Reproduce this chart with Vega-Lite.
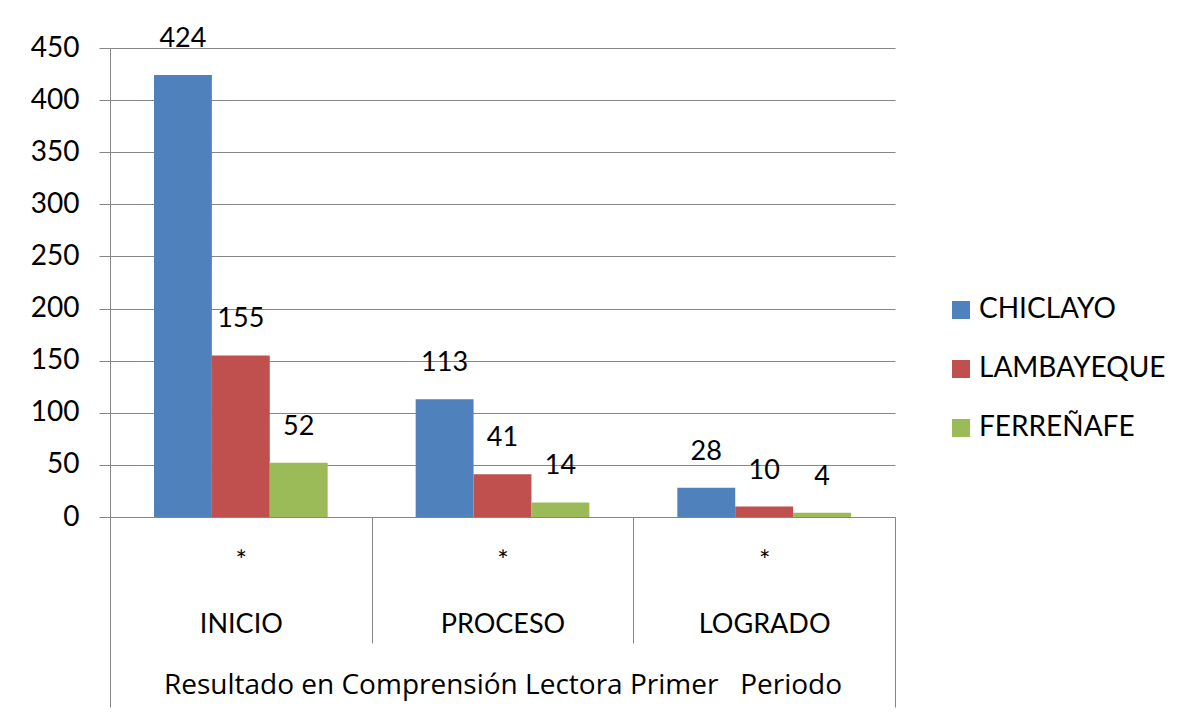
{
  "$schema": "https://vega.github.io/schema/vega-lite/v6.json",
  "width": 785,
  "height": 469,
  "autosize": {"type": "none"},
  "padding": {"left": 110, "top": 48, "right": 297, "bottom": 200},
  "background": "white",
  "config": {
    "view": {"stroke": null},
    "font": "Lato",
    "text": {"font": "Lato"}
  },
  "data": {
    "values": [
      {"nivel": "INICIO", "provincia": "CHICLAYO", "valor": 424},
      {"nivel": "INICIO", "provincia": "LAMBAYEQUE", "valor": 155},
      {"nivel": "INICIO", "provincia": "FERREÑAFE", "valor": 52},
      {"nivel": "PROCESO", "provincia": "CHICLAYO", "valor": 113},
      {"nivel": "PROCESO", "provincia": "LAMBAYEQUE", "valor": 41},
      {"nivel": "PROCESO", "provincia": "FERREÑAFE", "valor": 14},
      {"nivel": "LOGRADO", "provincia": "CHICLAYO", "valor": 28},
      {"nivel": "LOGRADO", "provincia": "LAMBAYEQUE", "valor": 10},
      {"nivel": "LOGRADO", "provincia": "FERREÑAFE", "valor": 4}
    ]
  },
  "encoding": {
    "x": {
      "field": "nivel",
      "type": "nominal",
      "sort": ["INICIO", "PROCESO", "LOGRADO"],
      "scale": {"paddingInner": 0, "paddingOuter": 0},
      "axis": {
        "title": "Resultado en Comprensión Lectora Primer\u00a0\u00a0\u00a0Periodo",
        "titleFont": "Open Sans",
        "titleFontSize": 28,
        "titleFontWeight": "normal",
        "titleColor": "black",
        "titlePadding": -36,
        "labelExpr": "datum.value ? ['*', datum.value] : ''",
        "labelAngle": 0,
        "labelFont": "Lato",
        "labelFontSize": 27,
        "labelColor": "black",
        "labelLineHeight": 63,
        "labelBaseline": "top",
        "labelPadding": {"condition": {"test": "datum.value === 'INICIO' || datum.value === 'PROCESO'", "value": -95}, "value": -159},
        "tickBand": "extent",
        "tickColor": "#868686",
        "tickSize": {"condition": {"test": "datum.value === 'INICIO' || datum.value === 'PROCESO'", "value": 126}, "value": 190},
        "domainColor": "#868686",
        "grid": false
      }
    },
    "xOffset": {
      "field": "provincia",
      "sort": ["CHICLAYO", "LAMBAYEQUE", "FERREÑAFE"],
      "scale": {"paddingInner": 0, "paddingOuter": 0.76}
    },
    "y": {
      "field": "valor",
      "type": "quantitative",
      "scale": {"domain": [0, 450], "nice": false},
      "axis": {
        "title": null,
        "values": [0, 50, 100, 150, 200, 250, 300, 350, 400, 450],
        "labelFont": "Lato",
        "labelFontSize": 28,
        "labelColor": "black",
        "labelPadding": 20,
        "tickSize": 11,
        "tickColor": "#868686",
        "domainColor": "#868686",
        "gridColor": "#868686",
        "gridOpacity": 1,
        "grid": true
      }
    }
  },
  "layer": [
    {
      "mark": {"type": "bar"},
      "encoding": {
        "color": {
          "field": "provincia",
          "type": "nominal",
          "sort": ["CHICLAYO", "LAMBAYEQUE", "FERREÑAFE"],
          "scale": {"domain": ["CHICLAYO", "LAMBAYEQUE", "FERREÑAFE"], "range": ["#4F81BD", "#C0504D", "#9BBB59"]},
          "legend": {
            "title": null,
            "orient": "none",
            "legendX": 837,
            "legendY": 248,
            "symbolType": "square",
            "symbolSize": 324,
            "symbolStrokeWidth": 0,
            "symbolOpacity": 1,
            "labelFont": "Lato",
            "labelFontSize": 28,
            "labelColor": "black",
            "labelOffset": 4,
            "labelLimit": 400,
            "rowPadding": 31
          }
        }
      }
    },
    {
      "mark": {"type": "text", "baseline": "bottom", "dy": -22, "fontSize": 27, "font": "Lato", "color": "black"},
      "encoding": {"text": {"field": "valor", "type": "quantitative"}}
    }
  ]
}
